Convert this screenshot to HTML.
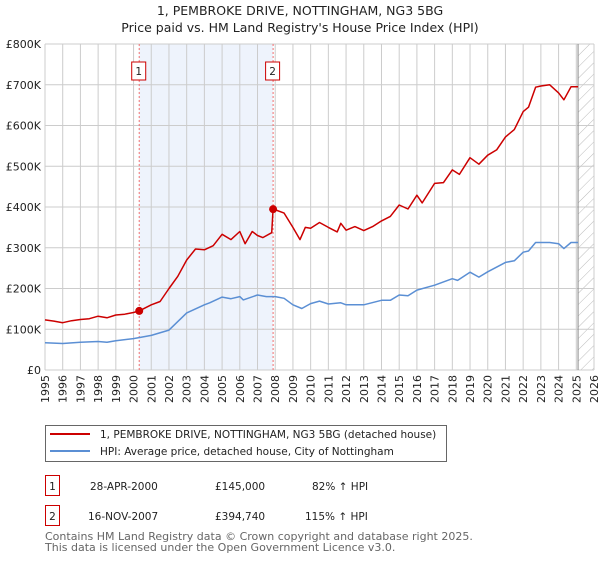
<!DOCTYPE html>
<html><head><meta charset="utf-8"><style>
body{margin:0;background:#fff;font-family:"DejaVu Sans","Liberation Sans",sans-serif;}
svg text{font-family:"DejaVu Sans","Liberation Sans",sans-serif;}
</style></head><body>
<svg id="chart" width="600" height="560" xmlns="http://www.w3.org/2000/svg">
<defs><pattern id="hatch" patternUnits="userSpaceOnUse" width="8" height="8" patternTransform="rotate(45)"><line x1="0" y1="0" x2="0" y2="8" stroke="#bbb" stroke-width="1"/></pattern></defs>
<text x="300" y="15" text-anchor="middle" font-size="12.5" fill="#222">1, PEMBROKE DRIVE, NOTTINGHAM, NG3 5BG</text>
<text x="300" y="32" text-anchor="middle" font-size="12.5" fill="#222">Price paid vs. HM Land Registry's House Price Index (HPI)</text>
<g id="plot"></g>
<g>
<rect x="45.5" y="425.5" width="401" height="36" fill="#fff" stroke="#666"/>
<line x1="50" y1="434" x2="90" y2="434" stroke="#cc0000" stroke-width="2"/>
<text x="100" y="438" font-size="10.5" fill="#222">1, PEMBROKE DRIVE, NOTTINGHAM, NG3 5BG (detached house)</text>
<line x1="50" y1="451" x2="90" y2="451" stroke="#5b8fd4" stroke-width="2"/>
<text x="100" y="455" font-size="10.5" fill="#222">HPI: Average price, detached house, City of Nottingham</text>
</g>
<g font-size="10.5" fill="#222">
<rect x="45.5" y="475.5" width="14" height="20" fill="#fff" stroke="#cc0000"/>
<text x="52.5" y="490" text-anchor="middle">1</text>
<text x="90" y="490">28-APR-2000</text>
<text x="215" y="490">£145,000</text>
<text x="312" y="490">82% ↑ HPI</text>
<rect x="45.5" y="505.5" width="14" height="20" fill="#fff" stroke="#cc0000"/>
<text x="52.5" y="520" text-anchor="middle">2</text>
<text x="88" y="520">16-NOV-2007</text>
<text x="215" y="520">£394,740</text>
<text x="305" y="520">115% ↑ HPI</text>
</g>
<text x="45" y="540" font-size="11" fill="#666">Contains HM Land Registry data © Crown copyright and database right 2025.</text>
<text x="45" y="551" font-size="11" fill="#666">This data is licensed under the Open Government Licence v3.0.</text>
</svg>
<script>
const yTicks=[0,100,200,300,400,500,600,700,800];
const yTickLabels=["£0","£100K","£200K","£300K","£400K","£500K","£600K","£700K","£800K"];
const xYears=[1995,1996,1997,1998,1999,2000,2001,2002,2003,2004,2005,2006,2007,2008,2009,2010,2011,2012,2013,2014,2015,2016,2017,2018,2019,2020,2021,2022,2023,2024,2025,2026];
const saleYears=[2000.32,2007.88];
const saleValues=[145,394.74];
const saleLabels=["1","2"];
const dataEnd=2025.1;
const redT=[1995,1995.5,1996,1996.5,1997,1997.5,1998,1998.5,1999,1999.5,2000,2000.32,2001,2001.5,2002,2002.5,2003,2003.5,2004,2004.5,2005,2005.5,2006,2006.3,2006.7,2007,2007.3,2007.8,2007.88,2008.5,2009,2009.4,2009.7,2010,2010.5,2011,2011.5,2011.7,2012,2012.5,2013,2013.5,2014,2014.5,2015,2015.5,2016,2016.3,2017,2017.5,2018,2018.4,2019,2019.5,2020,2020.5,2021,2021.5,2022,2022.3,2022.7,2023,2023.5,2024,2024.3,2024.7,2025.1];
const redV=[123,120,116,121,124,126,132,128,135,137,141,145,160,168,200,230,270,297,295,305,333,320,340,310,340,330,325,337,395,385,350,320,350,348,362,350,339,360,343,352,342,352,366,377,405,395,429,410,458,460,491,480,521,505,527,540,572,590,634,645,694,697,700,680,663,695,695];
const blueT=[1995,1996,1997,1998,1998.5,1999,2000,2001,2002,2003,2004,2004.3,2005,2005.5,2006,2006.2,2007,2007.5,2008,2008.5,2009,2009.5,2010,2010.5,2011,2011.7,2012,2013,2014,2014.5,2015,2015.5,2016,2017,2018,2018.3,2019,2019.5,2020,2021,2021.5,2022,2022.3,2022.7,2023.5,2024,2024.3,2024.7,2025.1];
const blueV=[67,65,68,70,68,72,77,85,98,140,160,165,179,175,180,172,184,180,180,176,160,151,163,169,162,165,160,160,171,171,184,182,196,208,224,220,240,228,241,264,268,289,292,313,313,310,298,313,313];

const X0=45,X1=594,Y0=370,Y1=44;
const xs=t=>X0+(t-1995)/(2026-1995)*(X1-X0);
const ys=v=>Y0-v/800*(Y0-Y1);
const NS="http://www.w3.org/2000/svg";
const g=document.getElementById('plot');
function mk(tag,attrs,parent){const e=document.createElementNS(NS,tag);for(const k in attrs)e.setAttribute(k,attrs[k]);(parent||g).appendChild(e);return e;}

let r=mk('rect',{x:xs(saleYears[0]),y:Y1,width:xs(saleYears[1])-xs(saleYears[0]),height:Y0-Y1,fill:'#eef3fc'});


r=mk('rect',{x:xs(dataEnd),y:Y1,width:X1-xs(dataEnd),height:Y0-Y1,fill:'url(#hatch)'});



xYears.forEach(yr=>{
  const x=xs(yr);
  const l=mk('line',{x1:x,y1:Y1,x2:x,y2:Y0,stroke:'#ccc','stroke-width':1});
  
  
  const t=mk('text',{x:0,y:0,'font-size':11,fill:'#222','text-anchor':'end',transform:`translate(${x+4},${Y0+5}) rotate(-90)`});
  t.textContent=yr;
  
  
});
yTicks.forEach((v,i)=>{
  const y=ys(v);
  const l=mk('line',{x1:X0,y1:y,x2:X1,y2:y,stroke:'#ccc','stroke-width':1});
  
  
  const t=mk('text',{x:X0-4,y:y+4,'font-size':11,fill:'#222','text-anchor':'end'});
  t.textContent=yTickLabels[i];
  
  
});
let el=mk('line',{x1:xs(dataEnd),y1:Y1,x2:xs(dataEnd),y2:Y0,stroke:'#888','stroke-width':1});



saleYears.forEach((s,i)=>{
  const x=xs(s);
  const l=mk('line',{x1:x,y1:Y1,x2:x,y2:Y0,stroke:'#f07070','stroke-width':1,'stroke-dasharray':'2,2'});
  
  
  const b=mk('rect',{x:x-7.5,y:62,width:14,height:18,fill:'#fff',stroke:'#cc0000'});
  
  
  const t=mk('text',{x:x-0.5,y:75,'font-size':10.5,fill:'#222','text-anchor':'middle'});
  t.textContent=saleLabels[i];
  
  
});

function path(T,V,color,name){
  const d=T.map((t,i)=>(i?'L':'M')+xs(t).toFixed(1)+','+ys(V[i]).toFixed(1)).join(' ');
  const p=mk('path',{d:d,fill:'none',stroke:color,'stroke-width':1.5,'stroke-linejoin':'round'});
  
  
}
path(blueT,blueV,'#5b8fd4','hpi-line');
path(redT,redV,'#cc0000','property-price-line');
saleYears.forEach((s,i)=>{
  const c=mk('circle',{cx:xs(s),cy:ys(saleValues[i]),r:4,fill:'#cc0000'});
  
  
});
</script>
</body></html>
